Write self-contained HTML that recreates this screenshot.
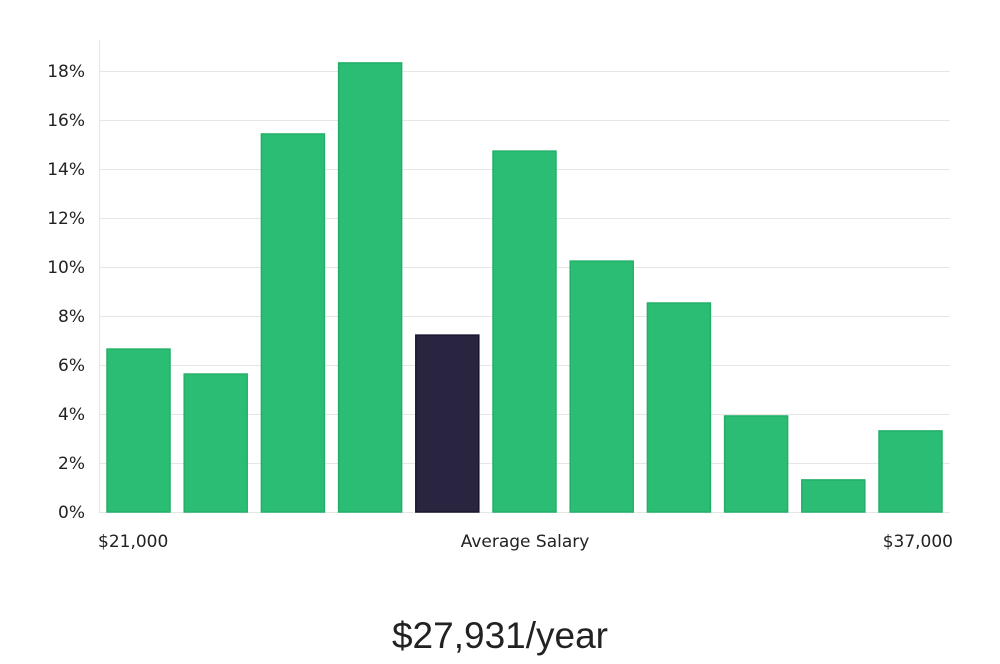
<!DOCTYPE html>
<html><head><meta charset="utf-8"><style>
body{margin:0;background:#fff;width:1000px;height:660px;overflow:hidden;font-family:"DejaVu Sans","Liberation Sans",sans-serif}
</style></head><body>
<svg width="1000" height="660" xmlns="http://www.w3.org/2000/svg">
<g id="grid"></g><g id="bars"></g><g id="ylabels"></g>
<line x1="99.5" y1="40" x2="99.5" y2="512" stroke="#e6e6e6" stroke-width="1"/>
<text x="98" y="547" font-size="17" fill="#222">$21,000</text>
<text x="525" y="547" font-size="17" fill="#222" text-anchor="middle">Average Salary</text>
<text x="953" y="547" font-size="17" fill="#222" text-anchor="end">$37,000</text>
<text x="500" y="648" font-size="37" fill="#222" text-anchor="middle" font-family="'Liberation Sans',sans-serif" font-weight="300">$27,931/year</text>
</svg>
<script>
const values=[6.65,5.63,15.43,18.33,7.22,14.73,10.24,8.53,3.92,1.31,3.31];
const highlightIndex=4;
const yTicks=[0,2,4,6,8,10,12,14,16,18];
const yLabels=["0%","2%","4%","6%","8%","10%","12%","14%","16%","18%"];
const ns="http://www.w3.org/2000/svg";
const y=v=>512-v*24.5;
const x=i=>107+i*77.2;
const g=document.getElementById('grid'),b=document.getElementById('bars'),yl=document.getElementById('ylabels');
yTicks.forEach((t,i)=>{
 const l=document.createElementNS(ns,'line');
 l.setAttribute('x1',99);l.setAttribute('x2',950);l.setAttribute('y1',y(t)+0.5);l.setAttribute('y2',y(t)+0.5);
 l.setAttribute('stroke','#e6e6e6');
 
 
 g.appendChild(l);
 const tx=document.createElementNS(ns,'text');
 tx.setAttribute('x',85);tx.setAttribute('y',y(t)+6);tx.setAttribute('text-anchor','end');tx.setAttribute('font-size','17');tx.setAttribute('fill','#222');
 tx.textContent=yLabels[i];
 
 
 yl.appendChild(tx);
});
values.forEach((v,i)=>{
 const r=document.createElementNS(ns,'rect');
 r.setAttribute('x',x(i));r.setAttribute('width',63);r.setAttribute('y',y(v));r.setAttribute('height',512-y(v));
 r.setAttribute('fill',i===highlightIndex?'#29243f':'#2bbd74');
 r.setAttribute('stroke',i===highlightIndex?'#1a1630':'#22b068');r.setAttribute('stroke-width','1.5');
 
 
 b.appendChild(r);
});
</script>
</body></html>
